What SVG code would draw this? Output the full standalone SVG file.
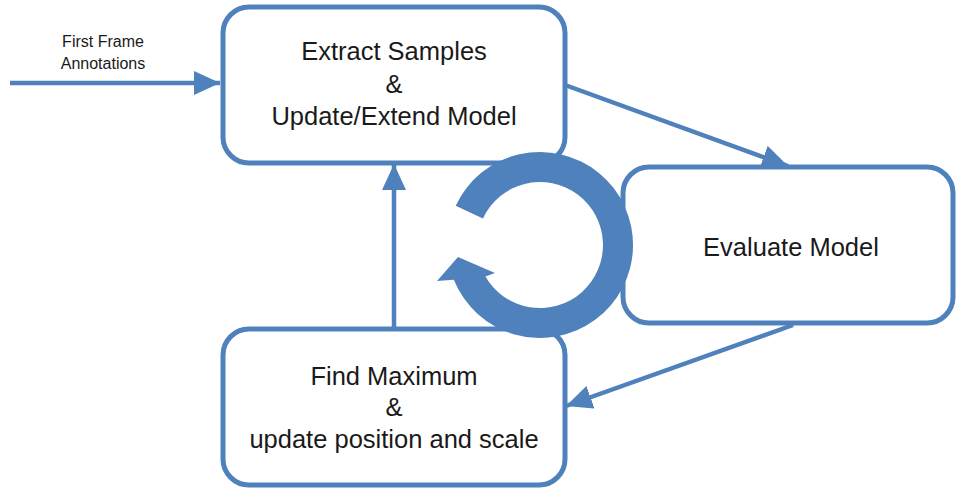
<svg xmlns="http://www.w3.org/2000/svg" width="958" height="491" viewBox="0 0 958 491">
  <style>
    .box { fill: #ffffff; stroke: #4f81bd; stroke-width: 5; }
    .conn { fill: none; stroke: #4f81bd; stroke-width: 4.5; }
    .lbl { font-family: "Liberation Sans", Arial, sans-serif; font-size: 25.5px; fill: #1a1a1a; text-anchor: middle; }
    .small { font-family: "Liberation Sans", Arial, sans-serif; font-size: 16px; fill: #1a1a1a; text-anchor: middle; }
    .cycle { fill: #4f81bd; }
  </style>
  <defs>
    <marker id="head" viewBox="0 0 26 24" refX="26" refY="12" markerWidth="26" markerHeight="24" markerUnits="userSpaceOnUse" orient="auto">
      <path d="M0,0 L26,12 L0,24 Z" fill="#4f81bd"/>
    </marker>
  </defs>

  <!-- connectors -->
  <g id="connectors">
    <line class="conn" x1="10" y1="83" x2="220" y2="83" marker-end="url(#head)"/>
    <line class="conn" x1="565" y1="85" x2="788" y2="166" marker-end="url(#head)"/>
    <line class="conn" x1="793" y1="325" x2="566" y2="406" marker-end="url(#head)"/>
    <line class="conn" x1="394" y1="328" x2="394" y2="164" marker-end="url(#head)"/>
  </g>

  <g id="extract">
    <rect class="box" x="223" y="7" width="342" height="156" rx="26" ry="26"/>
    <text class="lbl" x="394" y="60">Extract Samples</text>
    <text class="lbl" x="394" y="93">&amp;</text>
    <text class="lbl" x="394" y="125">Update/Extend Model</text>
  </g>

  <g id="evaluate">
    <rect class="box" x="623" y="167" width="330" height="156" rx="26" ry="26"/>
    <text class="lbl" x="791" y="256">Evaluate Model</text>
  </g>

  <g id="maximum">
    <rect class="box" x="223" y="329" width="342" height="156" rx="26" ry="26"/>
    <text class="lbl" x="394" y="385">Find Maximum</text>
    <text class="lbl" x="394" y="416">&amp;</text>
    <text class="lbl" x="394" y="448">update position and scale</text>
  </g>

  <g id="input-label">
    <text class="small" x="103" y="47">First Frame</text>
    <text class="small" x="103" y="69">Annotations</text>
  </g>

  <!-- circular arrow drawn over the boxes -->
  <g id="cycle">
    <path class="cycle" d="M455.7,205.7 A93,93 0 1 1 453.8,279.8 L437,281 L458,257 L495,273 L485.4,276.5 A63,63 0 1 0 482.9,218.4 Z"/>
  </g>
</svg>
